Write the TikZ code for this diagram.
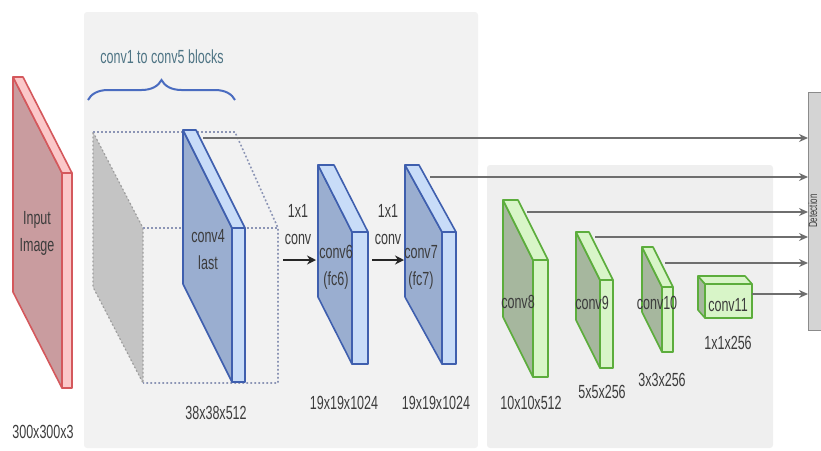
\documentclass[tikz,border=0pt]{standalone}
\usepackage{fontspec}
\usetikzlibrary{arrows.meta,decorations.pathreplacing}
\newfontfamily\lblfont[FakeStretch=0.66]{Liberation Sans}

\definecolor{panelA}{HTML}{F2F2F2}
\definecolor{panelB}{HTML}{EFEFEF}
\definecolor{txt}{HTML}{3C3C3C}
\definecolor{bracetxt}{HTML}{4F7585}
\definecolor{bracecol}{HTML}{4A6CC0}
\definecolor{redfront}{HTML}{C99C9F}
\definecolor{redlight}{HTML}{FBC8C9}
\definecolor{redline}{HTML}{D4585C}
\definecolor{bluefront}{HTML}{9AAED0}
\definecolor{bluelight}{HTML}{C8DCF8}
\definecolor{blueline}{HTML}{3F5FAE}
\definecolor{greenfront}{HTML}{A6B79E}
\definecolor{greenlight}{HTML}{D8F5C8}
\definecolor{greenline}{HTML}{5CAD3C}
\definecolor{dotcol}{HTML}{8C95B5}
\definecolor{greyface}{HTML}{C4C4C4}
\definecolor{arrowgrey}{HTML}{6E6E6E}
\definecolor{detfill}{HTML}{D4D4D4}

% slab: #1,#2 front top-left; #3,#4 slant of the top edge; #5 depth; #6 height;
% #7 front fill; #8 side/top fill; #9 outline
\newcommand{\slabshape}[9]{%
  \filldraw[fill=#7, draw=#9, slabline] (#1,#2) -- ++(#3,#4) -- ++(0,#6) -- ++(-#3,-#4) -- cycle;
  \filldraw[fill=#8, draw=#9, slabline] (#1+#3,#2+#4) rectangle ++(#5,#6);
  \filldraw[fill=#8, draw=#9, slabline] (#1,#2) -- ++(#5,0) -- ++(#3,#4) -- ++(-#5,0) -- cycle;
}

\begin{document}
\begin{tikzpicture}[x=1pt,y=-1pt,
  slabline/.style={line width=1.6pt, line join=round},
  lbl/.style={font=\lblfont\fontsize{19}{27}\selectfont, text=txt, align=center, inner sep=0pt},
  dots/.style={draw=dotcol, line width=1.6pt, dash pattern=on 1.8pt off 2.2pt},
  feed/.style={draw=arrowgrey, line width=2.2pt, -{Stealth[length=9pt,width=8pt]}},
  convarrow/.style={draw=black!85, line width=2.4pt, -{Stealth[length=9pt,width=9pt]}}]
\useasboundingbox (0,0) rectangle (821,450);
\clip (0,0) rectangle (821,450);

% background panels
\fill[panelA, rounded corners=3pt] (84,12) rectangle (478,448);
\fill[white] (478,165) rectangle (487,450);
\fill[panelB, rounded corners=3pt] (487,165) rectangle (773,448);

% conv1..conv5 volume (dotted box)
\filldraw[fill=greyface, draw=greyface!80!black, dash pattern=on 1.8pt off 2.2pt, line width=1.2pt]
  (93,132) -- (143,228) -- (143,383) -- (93,287) -- cycle;
\draw[dots] (93,132) -- (235,132) -- (278,228) -- (278,383) -- (143,383);
\draw[dots] (143,228) -- (278,228);

% brace and its caption
\draw[bracecol, line width=2pt, decorate, decoration={brace, amplitude=20pt}]
  (88,100) -- (235,100);
\node[lbl, text=bracetxt] (blocks) at (162,57) {conv1 to conv5 blocks};

% input image
\slabshape{13}{77}{49}{96}{10}{215}{redfront}{redlight}{redline}
\node[lbl] (input) at (37,233) {Input\\Image};
\node[lbl] (inputsize) at (43,432) {300x300x3};

% conv4
\slabshape{183}{130}{49}{98}{13}{154}{bluefront}{bluelight}{blueline}
\node[lbl] (conv4) at (208,250) {conv4\\last};
\node[lbl] (conv4size) at (216,413) {38x38x512};

% conv6 and conv7
\slabshape{318}{165}{34}{67}{16}{132}{bluefront}{bluelight}{blueline}
\node[lbl] (conv6) at (336,267) {conv6\\(fc6)};
\node[lbl] (conv6size) at (344,403) {19x19x1024};
\slabshape{405}{165}{37}{67}{14}{132}{bluefront}{bluelight}{blueline}
\node[lbl] (conv7) at (421,267) {conv7\\(fc7)};
\node[lbl] (conv7size) at (436,403) {19x19x1024};

% 1x1 convolutions
\node[lbl] (oneA) at (298,225) {1x1\\conv};
\node[lbl] (oneB) at (388,225) {1x1\\conv};
\coordinate (a1s) at (283,260); \coordinate (a1e) at (316,260);
\coordinate (a2s) at (372,260); \coordinate (a2e) at (404,260);
\draw[convarrow] (a1s) -- (a1e);
\draw[convarrow] (a2s) -- (a2e);

% extra feature layers
\slabshape{503}{200}{30}{60}{15}{117}{greenfront}{greenlight}{greenline}
\node[lbl] (conv8) at (518,302) {conv8};
\node[lbl] (conv8size) at (531,403) {10x10x512};
\slabshape{576}{232}{24}{48}{13}{88}{greenfront}{greenlight}{greenline}
\node[lbl] (conv9) at (592,303) {conv9};
\node[lbl] (conv9size) at (602,392) {5x5x256};
\slabshape{642}{247}{20}{40}{11}{65}{greenfront}{greenlight}{greenline}
\node[lbl] (conv10) at (657,303) {conv10};
\node[lbl] (conv10size) at (662,380) {3x3x256};

% conv11 (small cuboid)
\filldraw[fill=greenfront, draw=greenline, slabline] (698,276) -- (705,284) -- (705,318) -- (698,310) -- cycle;
\filldraw[fill=greenlight, draw=greenline, slabline] (705,284) rectangle (752,318);
\filldraw[fill=greenlight, draw=greenline, slabline] (698,276) -- (745,276) -- (752,284) -- (705,284) -- cycle;
\node[lbl] (conv11) at (728,305) {conv11};
\node[lbl] (conv11size) at (728,343) {1x1x256};

% detection block
\node[draw=arrowgrey!80, fill=detfill, line width=1.2pt, minimum width=40pt, minimum height=238pt,
      anchor=north west, inner sep=0pt] (det) at (808,92) {};
\node[lbl, font=\lblfont\fontsize{12}{14}\selectfont, rotate=90, anchor=base] (dettext) at (817,211) {Detection};

% feature maps feeding the detector
\coordinate (f4) at (203,138);
\coordinate (f7) at (430,177);
\coordinate (f8) at (527,212);
\coordinate (f9) at (595,237);
\coordinate (f10) at (665,263);
\coordinate (f11) at (752,294);
\foreach \src in {f4,f7,f8,f9,f10,f11}
  \draw[feed] (\src) -- (\src -| det.west);
\end{tikzpicture}
\end{document}
